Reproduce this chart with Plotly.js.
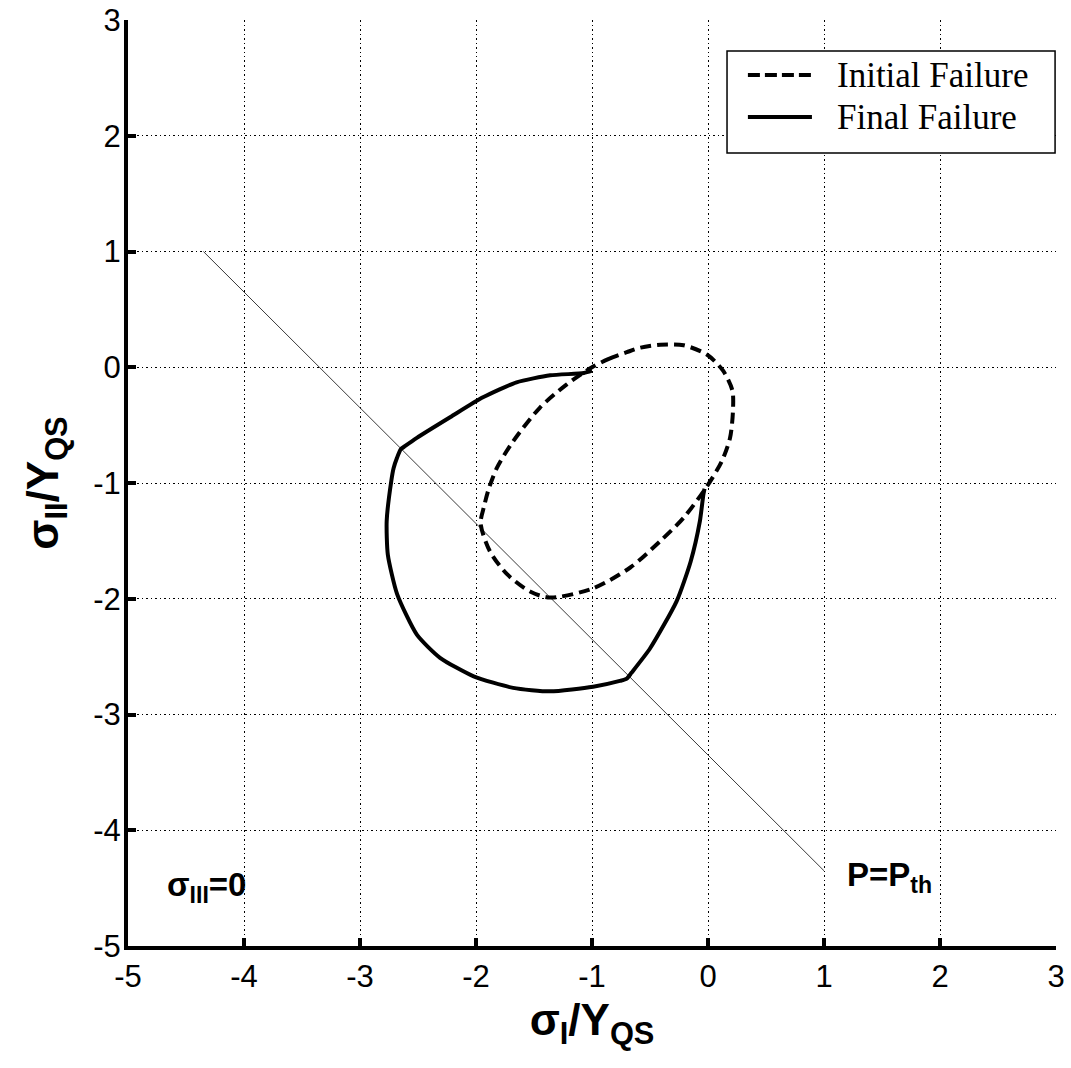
<!DOCTYPE html>
<html>
<head>
<meta charset="utf-8">
<script src="https://cdn.plot.ly/plotly-3.0.1.min.js"></script>
<style>
  html, body { margin: 0; padding: 0; background: #ffffff; }
  #chart { width: 1071px; height: 1068px; }
</style>
</head>
<body>
<div id="chart"></div>
<script>
// Initial failure envelope (closed loop), normalised principal stresses
const initialX = [-1.00, -0.86, -0.70, -0.58, -0.41, -0.21, -0.01, 0.13, 0.21, 0.215, 0.19, 0.12, -0.01,
                  -0.21, -0.41, -0.67, -0.99, -1.36, -1.53, -1.73, -1.88, -1.96, -1.93, -1.89, -1.82,
                  -1.68, -1.45, -1.22, -1.00];
const initialY = [0.00, 0.07, 0.13, 0.17, 0.195, 0.19, 0.11, -0.03, -0.20, -0.38, -0.61, -0.81, -1.03,
                  -1.30, -1.50, -1.73, -1.91, -1.99, -1.94, -1.79, -1.59, -1.35, -1.20, -1.05, -0.87,
                  -0.64, -0.35, -0.15, 0.00];

// Final failure envelope (open curve)
const finalX = [-1.00, -1.07, -1.36, -1.65, -1.94, -2.22, -2.51, -2.61, -2.65, -2.68, -2.71, -2.73, -2.77,
                -2.76, -2.68, -2.51, -2.31, -2.02, -1.68, -1.36, -0.99, -0.76, -0.70, -0.66, -0.50,
                -0.27, -0.15, -0.07, -0.04, -0.03];
const finalY = [-0.03, -0.05, -0.07, -0.13, -0.26, -0.43, -0.61, -0.68, -0.71, -0.78, -0.87, -0.98, -1.33,
                -1.62, -1.96, -2.31, -2.51, -2.67, -2.77, -2.80, -2.76, -2.71, -2.69, -2.64, -2.43,
                -2.02, -1.68, -1.33, -1.10, -1.05];

// Threshold line P = P_th (sigma_I + sigma_II = const)
const thresholdX = [-4.35, 1.00];
const thresholdY = [1.00, -4.35];

const tickVals = [-5, -4, -3, -2, -1, 0, 1, 2, 3];
const tickText = ['-5', '-4', '-3', '-2', '-1', '0', '1', '2', '3'];

const legendNames = ['Initial Failure', 'Final Failure'];

const SANS = 'Liberation Sans, Arial, sans-serif';
const SERIF = 'Liberation Serif, Times New Roman, serif';
const DASH = '11px,6px';

const traces = [
  {
    x: thresholdX, y: thresholdY, mode: 'lines', showlegend: false,
    line: { color: '#3a3a3a', width: 1 }, hoverinfo: 'skip'
  },
  {
    x: initialX, y: initialY, mode: 'lines', name: legendNames[0], showlegend: false,
    line: { color: '#000000', width: 4, dash: DASH, shape: 'spline', smoothing: 0.8 }
  },
  {
    x: finalX, y: finalY, mode: 'lines', name: legendNames[1], showlegend: false,
    line: { color: '#000000', width: 4, shape: 'spline', smoothing: 0.6 }
  }
];

const axisCommon = {
  range: [-5, 3],
  tickmode: 'array',
  tickvals: tickVals,
  ticktext: tickText,
  showgrid: true,
  gridcolor: '#000000',
  gridwidth: 1,
  griddash: '1.5px,3px',
  zeroline: false,
  showline: true,
  linecolor: '#000000',
  linewidth: 4,
  ticks: 'inside',
  ticklen: 8,
  tickwidth: 4,
  tickcolor: '#000000',
  tickfont: { family: SANS, size: 31, color: '#000000' },
  mirror: false
};

// Legend box drawn in paper coordinates (top-right corner of the axes)
const legendBox = { x0: 0.6455, x1: 0.999, y0: 0.8564, y1: 0.9665 };
const legendRows = [0.9406, 0.8952];
const legendLineX = [0.668, 0.737];
const legendTextX = 0.7619;

const shapes = [
  {
    type: 'rect', xref: 'paper', yref: 'paper',
    x0: legendBox.x0, x1: legendBox.x1, y0: legendBox.y0, y1: legendBox.y1,
    line: { color: '#000000', width: 1.5 }, fillcolor: '#ffffff', layer: 'above'
  },
  {
    type: 'line', xref: 'paper', yref: 'paper',
    x0: legendLineX[0], x1: legendLineX[1], y0: legendRows[0], y1: legendRows[0],
    line: { color: '#000000', width: 4, dash: '12px,5px' }, layer: 'above'
  },
  {
    type: 'line', xref: 'paper', yref: 'paper',
    x0: legendLineX[0], x1: legendLineX[1], y0: legendRows[1], y1: legendRows[1],
    line: { color: '#000000', width: 4 }, layer: 'above'
  }
];

const layout = {
  width: 1071,
  height: 1068,
  margin: { l: 128, r: 15, t: 20, b: 122 },
  paper_bgcolor: '#ffffff',
  plot_bgcolor: '#ffffff',
  showlegend: false,
  xaxis: Object.assign({}, axisCommon, {
    title: {
      text: 'σ<sub>I</sub>/Y<sub>QS</sub>',
      font: { family: SANS, size: 44, color: '#000000', weight: 'bold' },
      standoff: 12
    }
  }),
  yaxis: Object.assign({}, axisCommon, {
    ticklabelstandoff: -3,
    title: {
      text: 'σ<sub>II</sub>/Y<sub>QS</sub>',
      font: { family: SANS, size: 44, color: '#000000', weight: 'bold' },
      standoff: 22
    }
  }),
  shapes: shapes,
  annotations: [
    {
      x: -4.68, y: -4.49, xref: 'x', yref: 'y', xanchor: 'left', yanchor: 'middle',
      text: 'σ<sub>III</sub>=0', showarrow: false,
      font: { family: SANS, size: 33, color: '#000000', weight: 'bold' }
    },
    {
      x: 1.18, y: -4.40, xref: 'x', yref: 'y', xanchor: 'left', yanchor: 'middle',
      text: 'P=P<sub>th</sub>', showarrow: false,
      font: { family: SANS, size: 33, color: '#000000', weight: 'bold' }
    },
    {
      x: legendTextX, y: legendRows[0], xref: 'paper', yref: 'paper', xanchor: 'left', yanchor: 'middle',
      text: legendNames[0], showarrow: false,
      font: { family: SERIF, size: 35, color: '#000000' }
    },
    {
      x: legendTextX, y: legendRows[1], xref: 'paper', yref: 'paper', xanchor: 'left', yanchor: 'middle',
      text: legendNames[1], showarrow: false,
      font: { family: SERIF, size: 35, color: '#000000' }
    }
  ]
};

Plotly.newPlot('chart', traces, layout, { displayModeBar: false, staticPlot: true });
</script>
</body>
</html>
